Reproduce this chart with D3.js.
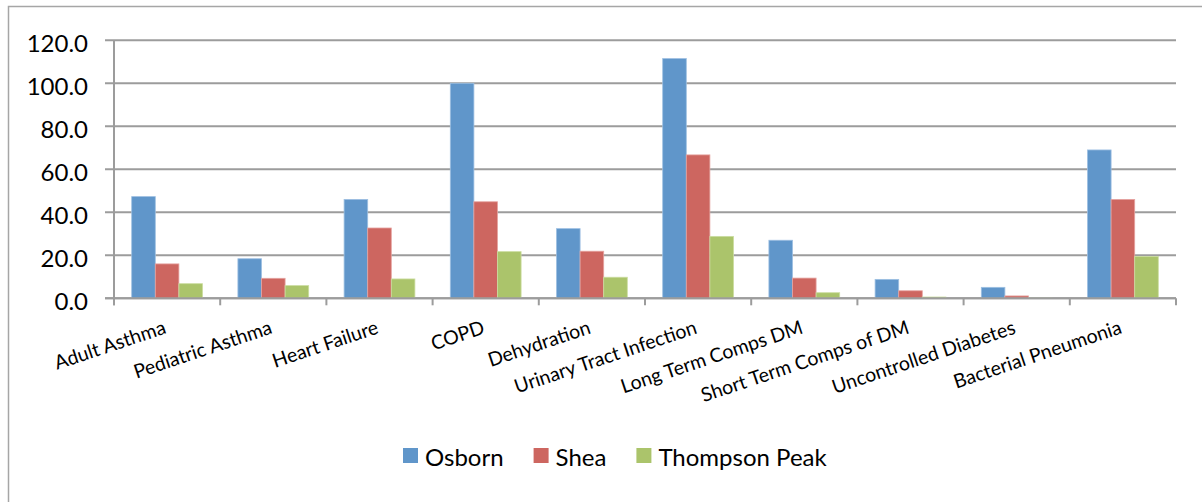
<!DOCTYPE html>
<html>
<head>
<meta charset="utf-8">
<script src="https://cdn.jsdelivr.net/npm/d3@7"></script>
<style>
  html, body { margin: 0; padding: 0; background: #fff; }
  svg { display: block; font-family: Lato, "Open Sans", sans-serif; }
</style>
</head>
<body>
<svg id="chart" width="1202" height="502"></svg>
<script>
const categories = ["Adult Asthma", "Pediatric Asthma", "Heart Failure", "COPD", "Dehydration",
  "Urinary Tract Infection", "Long Term Comps DM", "Short Term Comps of DM", "Uncontrolled Diabetes", "Bacterial Pneumonia"];
const seriesNames = ["Osborn", "Shea", "Thompson Peak"];
const osborn   = [47.3, 18.4, 46.0, 100.0, 32.4, 111.5, 27.0, 8.8, 5.1, 69.0];
const shea     = [16.0, 9.3, 32.7, 44.9, 21.9, 66.7, 9.4, 3.5, 1.1, 46.0];
const thompson = [6.8, 5.9, 9.0, 21.7, 9.8, 28.8, 2.6, 0.6, 0.1, 19.5];
const yTicks = [0, 20, 40, 60, 80, 100, 120];
const colors = ["#6096CA", "#CD6660", "#ABC46B"];
const strokes = ["#9DBFE2", "#E5A3A0", "#CBDDA0"];

(function () {
const seriesValues = [osborn, shea, thompson];
const svg = d3.select("#chart");
const pLeft = 114, pRight = 1176, pTop = 40.3, pBottom = 298.3;
const grid = "#9C9C9C";

// outer frame
svg.append("rect").attr("x", 8.5).attr("y", 6.5).attr("width", 1240).attr("height", 520)
  .attr("fill", "none").attr("stroke", "#A6A6A6").attr("stroke-width", 1.5);

const x = d3.scaleBand().domain(categories).range([pLeft, pRight]).paddingInner(1/3).paddingOuter(1/6);
const xs = d3.scaleBand().domain(seriesNames).range([0, x.bandwidth()]);
const y = d3.scaleLinear().domain([0, 120]).range([pBottom, pTop]);

// gridlines + y ticks
svg.append("g").selectAll("line").data(yTicks).join("line")
  .attr("x1", pLeft - 9).attr("x2", pRight).attr("y1", d => y(d)).attr("y2", d => y(d))
  .attr("stroke", grid).attr("stroke-width", 2);

svg.append("g").selectAll("text").data(yTicks).join("text")
  .attr("x", 88).attr("y", d => y(d) + 11.8).attr("text-anchor", "end")
  .attr("font-size", 24).attr("fill", "#000").text(d => d.toFixed(1));

// bars
const groups = svg.append("g").selectAll("g").data(seriesNames).join("g");
groups.each(function(s, si) {
  d3.select(this).selectAll("rect").data(seriesValues[si]).join("rect")
    .attr("x", (d, i) => x(categories[i]) + xs(s))
    .attr("width", xs.bandwidth())
    .attr("y", d => y(d))
    .attr("height", d => y(0) - y(d))
    .attr("fill", colors[si])
    .attr("stroke", strokes[si]).attr("stroke-width", 0.8);
});

// axes lines
svg.append("line").attr("x1", pLeft).attr("x2", pLeft).attr("y1", pTop).attr("y2", pBottom + 7)
  .attr("stroke", grid).attr("stroke-width", 2);
svg.append("line").attr("x1", pLeft - 9).attr("x2", pRight).attr("y1", pBottom).attr("y2", pBottom)
  .attr("stroke", grid).attr("stroke-width", 2);
const step = x.step();
const boundaries = categories.map(c => x(c) - (step - x.bandwidth()) / 2).concat([pRight]);
svg.append("g").selectAll("line").data(boundaries).join("line")
  .attr("x1", d => d).attr("x2", d => d).attr("y1", pBottom).attr("y2", pBottom + 7)
  .attr("stroke", grid).attr("stroke-width", 2);

// category labels
svg.append("g").selectAll("text").data(categories).join("text")
  .attr("transform", d => `translate(${x(d) + x.bandwidth() / 2},333) rotate(-18.5)`)
  .attr("text-anchor", "end").attr("font-size", 19.5).attr("fill", "#000").text(d => d);

// legend
const lg = svg.append("g");
let lx = 403;
seriesNames.forEach((s, i) => {
  lg.append("rect").attr("x", lx).attr("y", 448).attr("width", 15).attr("height", 15).attr("fill", colors[i]);
  const t = lg.append("text").attr("x", lx + 22).attr("y", 466).attr("font-size", 24).attr("fill", "#000").text(s);
  lx += 22 + t.node().getComputedTextLength() + 30;
});
})();
</script>
</body>
</html>
